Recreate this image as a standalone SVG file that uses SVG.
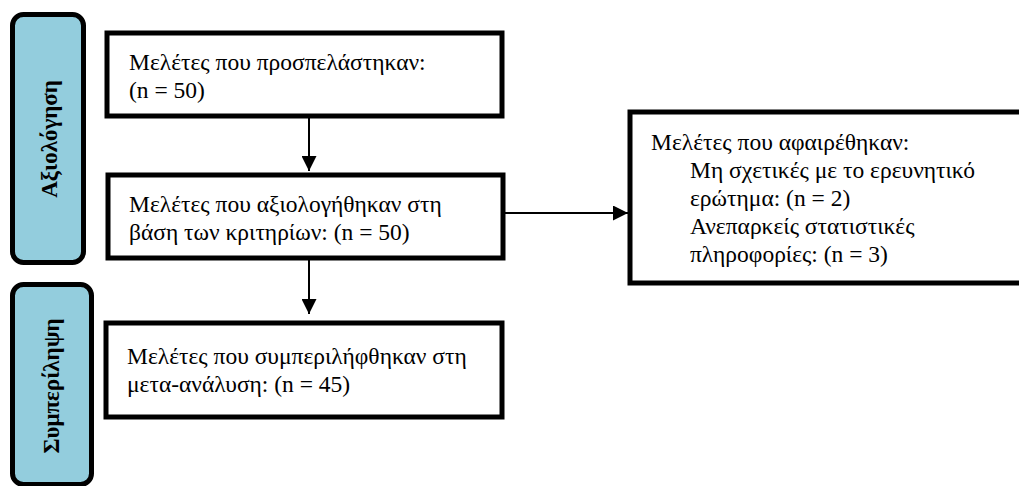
<svg xmlns="http://www.w3.org/2000/svg" width="1019" height="486" viewBox="0 0 1019 486">
<style>
.stage{fill:#93cddd;stroke:#000;stroke-width:5}
.box{fill:#fff;stroke:#000;stroke-width:5}
.t{font-family:'Liberation Serif','Times New Roman','DejaVu Serif',serif;font-size:23.5px;fill:#000}
.v{font-family:'Liberation Serif','Times New Roman','DejaVu Serif',serif;font-size:23px;font-weight:bold;fill:#000}
.c{stroke:#000;stroke-width:2;fill:none}
</style>
<defs>
<marker id="ah" markerWidth="16" markerHeight="15" refX="15" refY="7.5" orient="auto" markerUnits="userSpaceOnUse">
<path d="M0,0 L15,7.5 L0,15 Z" fill="#000"/>
</marker>
</defs>
<rect width="1019" height="486" fill="#fff"/>
<g id="stage-assessment">
<rect class="stage" x="12.5" y="14.5" width="71" height="248" rx="11"/>
<text class="v" transform="translate(57,139) rotate(-90)" text-anchor="middle">Αξιολόγηση</text>
</g>
<g id="stage-inclusion">
<rect class="stage" x="12.5" y="284.5" width="79" height="200" rx="11"/>
<text class="v" transform="translate(59,386) rotate(-90)" text-anchor="middle">Συμπερίληψη</text>
</g>
<g id="accessed">
<rect class="box" x="107" y="33" width="395" height="83"/>
<text class="t" x="129" y="70">Μελέτες που προσπελάστηκαν:</text>
<text class="t" x="129" y="98">(n = 50)</text>
</g>
<g id="assessed">
<rect class="box" x="108" y="175" width="395" height="83"/>
<text class="t" x="129" y="212">Μελέτες που αξιολογήθηκαν στη</text>
<text class="t" x="129" y="240">βάση των κριτηρίων: (n = 50)</text>
</g>
<g id="included">
<rect class="box" x="106" y="323" width="396" height="94"/>
<text class="t" x="127" y="364">Μελέτες που συμπεριλήφθηκαν στη</text>
<text class="t" x="127" y="392">μετα-ανάλυση: (n = 45)</text>
</g>
<g id="removed">
<rect class="box" x="630" y="112" width="400" height="171"/>
<text class="t" x="651" y="150">Μελέτες που αφαιρέθηκαν:</text>
<text class="t" x="690" y="178">Μη σχετικές με το ερευνητικό</text>
<text class="t" x="690" y="206">ερώτημα: (n = 2)</text>
<text class="t" x="690" y="234">Ανεπαρκείς στατιστικές</text>
<text class="t" x="690" y="262">πληροφορίες: (n = 3)</text>
</g>
<g id="connectors">
<line class="c" x1="309" y1="117" x2="309" y2="171" marker-end="url(#ah)"/>
<line class="c" x1="309" y1="259" x2="309" y2="314" marker-end="url(#ah)"/>
<line class="c" x1="505" y1="213" x2="628" y2="213" marker-end="url(#ah)"/>
</g>
</svg>
